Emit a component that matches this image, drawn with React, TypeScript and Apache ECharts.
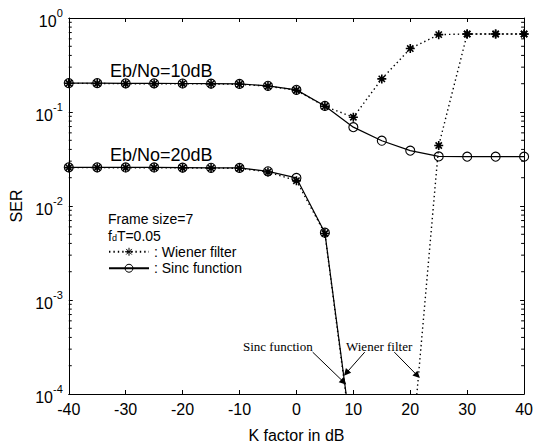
import React, { useEffect, useRef } from 'react';
import * as echarts from 'echarts';

// K factor (dB)
const kFactor = [-40, -35, -30, -25, -20, -15, -10, -5, 0, 5, 10, 15, 20, 25, 30, 35, 40];

// Eb/No = 10 dB
const sinc10 = [0.203, 0.203, 0.202, 0.202, 0.201, 0.2, 0.199, 0.19, 0.172, 0.116, 0.069, 0.0495, 0.0388, 0.0337, 0.0335, 0.0335, 0.0335];
const wiener10 = [0.202, 0.201, 0.2, 0.2, 0.2, 0.199, 0.197, 0.188, 0.17, 0.115, 0.088, 0.225, 0.473, 0.665, 0.676, 0.676, 0.676];

// Eb/No = 20 dB
const sinc20 = [0.0258, 0.0258, 0.0257, 0.0257, 0.0256, 0.0255, 0.0254, 0.0234, 0.0199, 0.0052, 0.000026, null, null, null, null, null, null];
const wiener20 = [0.0256, 0.0256, 0.0255, 0.0255, 0.0254, 0.0253, 0.0252, 0.023, 0.0186, 0.0051, 0.000024, 0.00001, 0.000016, 0.044, 0.676, 0.676, 0.676];

// axis ranges
const xTickValues = [-40, -30, -20, -10, 0, 10, 20, 30, 40];
const yMin = 1e-4;
const yMax = 1;
const minorMultipliers = [2, 3, 4, 5, 6, 7, 8, 9];
const decades = [-4, -3, -2, -1];

// annotation arrows (data coordinates): [start, end]
const arrowSinc = [[2.85, 2.79e-4], [8.3, 1.34e-4]];
const arrowWiener1 = [[12.0, 2.79e-4], [8.75, 1.67e-4]];
const arrowWiener2 = [[17.2, 2.79e-4], [21.25, 1.57e-4]];

const FONT = 'Liberation Sans';
const asterisk = 'path://M0,5L10,5M5,0L5,10M1.5,1.5L8.5,8.5M8.5,1.5L1.5,8.5';

const pair = (ys: (number | null)[]) => kFactor.map((x, i) => [x, ys[i]]);

export default function App() {
  const ref = useRef<HTMLDivElement>(null);
  useEffect(() => {
    const chart = echarts.init(ref.current!, null, { renderer: 'svg' });
    const minorVals: number[] = [];
    decades.forEach((d) => minorMultipliers.forEach((m) => minorVals.push(m * Math.pow(10, d))));

    const axisLine = { show: true, onZero: false, lineStyle: { color: '#000', width: 1 } };
    const tick = { show: true, inside: true, length: 4, lineStyle: { color: '#000', width: 1 } };

    const sincStyle = {
      type: 'line',
      name: 'Sinc function',
      symbol: 'circle',
      symbolSize: 9,
      itemStyle: { color: 'rgba(255,255,255,0)', borderColor: '#000', borderWidth: 1.1 },
      lineStyle: { color: '#000', width: 1.2, type: 'solid' },
      z: 3,
    };
    const wienerStyle = {
      type: 'line',
      name: 'Wiener filter',
      symbol: asterisk,
      symbolSize: 9,
      itemStyle: { color: '#000', borderColor: '#000', borderWidth: 1.6 },
      lineStyle: { color: '#000', width: 1.4, type: [1.4, 3] },
      z: 4,
    };

    const option: any = {
      animation: false,
      backgroundColor: '#fff',
      grid: { left: 62, right: 11, top: 18, bottom: 53, containLabel: false },
      xAxis: [
        {
          type: 'value', min: -40, max: 40, interval: 10, position: 'bottom',
          axisLine, axisTick: tick, splitLine: { show: false },
          axisLabel: { color: '#000', fontSize: 16, fontFamily: FONT, margin: 7,
            formatter: (v: number) => (xTickValues.includes(v) ? String(v) : '') },
          name: 'K factor in dB', nameLocation: 'middle', nameGap: 33,
          nameTextStyle: { color: '#000', fontSize: 16, fontFamily: FONT },
        },
        {
          type: 'value', min: -40, max: 40, interval: 10, position: 'top',
          axisLine, axisTick: tick, splitLine: { show: false }, axisLabel: { show: false },
        },
      ],
      yAxis: [
        {
          type: 'log', logBase: 10, min: yMin, max: yMax, position: 'left',
          axisLine, axisTick: tick, splitLine: { show: false },
          axisLabel: {
            margin: 6,
            formatter: (v: number) => `{sp| }{b|10}{s|${Math.round(Math.log10(v))}}`,
            rich: {
              sp: { fontSize: 1, lineHeight: 22 },
              b: { fontSize: 16, lineHeight: 16, verticalAlign: 'bottom', fontFamily: FONT, color: '#000' },
              s: { fontSize: 11, lineHeight: 10, verticalAlign: 'top', fontFamily: FONT, color: '#000' },
            },
          },
          name: 'SER', nameLocation: 'middle', nameGap: 36, nameRotate: 90,
          nameTextStyle: { color: '#000', fontSize: 16, fontFamily: FONT },
        },
        {
          type: 'log', logBase: 10, min: yMin, max: yMax, position: 'right',
          axisLine, axisTick: tick, splitLine: { show: false }, axisLabel: { show: false },
        },
      ],
      legend: {
        data: ['Wiener filter', 'Sinc function'],
        orient: 'vertical', left: 108, top: 243.5, padding: 0,
        itemWidth: 40, itemHeight: 10, itemGap: 0, selectedMode: false,
        itemStyle: { borderWidth: 1 },
        formatter: (n: string) => ': ' + n,
        textStyle: { color: '#000', fontSize: 14, fontFamily: FONT, lineHeight: 16.5 },
      },
      series: [
        { ...sincStyle, data: pair(sinc10) },
        { ...sincStyle, data: pair(sinc20) },
        { ...wienerStyle, data: pair(wiener10) },
        { ...wienerStyle, data: pair(wiener20) },
        {
          type: 'line', name: 'arrows', data: [], silent: true,
          markLine: {
            silent: true, symbol: ['none', 'triangle'], symbolSize: 7, animation: false,
            label: { show: false },
            lineStyle: { color: '#000', width: 1, type: 'solid' },
            data: [arrowSinc, arrowWiener1, arrowWiener2].map((a) => [
              { coord: a[0] }, { coord: a[1] },
            ]),
          },
        },
        {
          type: 'custom', name: 'minorTicks', silent: true, clip: false,
          data: minorVals.map((v) => [-40, v]),
          encode: { x: 0, y: 1 },
          renderItem: (params: any, api: any) => {
            const v = api.value(1);
            const pl = api.coord([-40, v]);
            const pr = api.coord([40, v]);
            return {
              type: 'group',
              children: [
                { type: 'line', shape: { x1: pl[0], y1: pl[1], x2: pl[0] + 3, y2: pl[1] }, style: { stroke: '#000', lineWidth: 1 } },
                { type: 'line', shape: { x1: pr[0], y1: pr[1], x2: pr[0] - 3, y2: pr[1] }, style: { stroke: '#000', lineWidth: 1 } },
              ],
            };
          },
        },
      ],
      graphic: [
        { type: 'text', x: 110, y: 71, style: { text: 'Eb/No=10dB', fontSize: 18, fontFamily: FONT, fill: '#000', verticalAlign: 'middle' } },
        { type: 'text', x: 110, y: 155, style: { text: 'Eb/No=20dB', fontSize: 18, fontFamily: FONT, fill: '#000', verticalAlign: 'middle' } },
        { type: 'text', x: 108, y: 219, style: { text: 'Frame size=7', fontSize: 14, fontFamily: FONT, fill: '#000', verticalAlign: 'middle' } },
        {
          type: 'text', x: 108, y: 235.5,
          style: {
            text: '{n|f}{d|d}{n|T=0.05}', verticalAlign: 'middle', fill: '#000',
            rich: {
              n: { fontSize: 14, lineHeight: 14, fontFamily: FONT, fill: '#000' },
              d: { fontSize: 9, lineHeight: 9, verticalAlign: 'bottom', fontFamily: FONT, fill: '#000' },
            },
          },
        },
        { type: 'text', x: 243, y: 346, style: { text: 'Sinc function', fontSize: 13, fontFamily: 'Liberation Serif', fill: '#000', verticalAlign: 'middle' } },
        { type: 'text', x: 346, y: 346, style: { text: 'Wiener filter', fontSize: 13, fontFamily: 'Liberation Serif', fill: '#000', verticalAlign: 'middle' } },
      ],
    };
    chart.setOption(option);
    return () => chart.dispose();
  }, []);
  return (
    <div
      ref={ref}
      style={{ position: 'fixed', left: 0, top: 0, width: 536, height: 448, background: '#fff' }}
    />
  );
}
